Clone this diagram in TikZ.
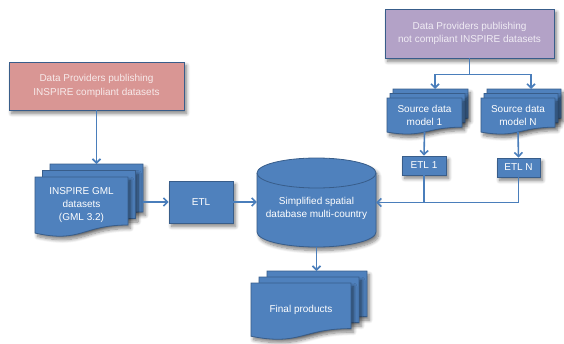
\documentclass[tikz,border=0pt]{standalone}
\usepackage{fontspec}
\setmainfont{Liberation Sans}
\usetikzlibrary{arrows.meta,shadows.blur,calc}

\definecolor{boxblue}{HTML}{4F81BD}
\definecolor{edgeblue}{HTML}{385D8A}
\definecolor{lineblue}{HTML}{4A7EBB}
\definecolor{pinkfill}{HTML}{D99694}
\definecolor{purplefill}{HTML}{B3A2C7}

% one page of a document shape: top-left corner (x,y), width w, height h
\newcommand{\docpage}[4]{%
  \path[pagestyle] ({#1},{#2}) -- ({#1+#3},{#2}) -- ({#1+#3},{#2+0.8*#4})
    .. controls ({#1+0.5*#3},{#2+0.8*#4}) and ({#1+0.5*#3},{#2+1.107*#4}) .. ({#1},{#2+0.934*#4}) -- cycle;}

% stack of three pages: name, x, y, w, h, dx, dy, text
\newcommand{\pagestack}[8]{%
  \docpage{#2+2*#6}{#3-2*#7}{#4}{#5}
  \docpage{#2+#6}{#3-#7}{#4}{#5}
  \docpage{#2}{#3}{#4}{#5}
  \node[anchor=north, minimum width=#4pt, minimum height=0.93*#5pt, inner sep=0pt]
    (#1-back) at ({#2+2*#6+0.5*#4},{#3-2*#7}) {};
  \node[pagetext, minimum width=#4pt, minimum height=0.93*#5pt]
    (#1) at ({#2+0.5*#4},{#3+0.465*#5}) {#8};}

\tikzset{
  soft/.style={blur shadow={shadow xshift=2.5pt, shadow yshift=-3.5pt,
      shadow blur radius=3.5pt, shadow blur steps=8, shadow opacity=50}},
  provider/.style={draw=edgeblue, line width=0.8pt, align=center, soft,
      font=\fontsize{10}{13.4}\selectfont},
  pagestyle/.style={fill=boxblue, draw=edgeblue, line width=0.8pt, soft},
  pagetext/.style={inner sep=0pt, align=center, text=white,
      font=\fontsize{10}{13}\selectfont},
  stepbox/.style={fill=boxblue, draw=edgeblue, line width=0.8pt, soft,
      inner sep=0pt, text=white, font=\fontsize{10}{12}\selectfont},
  conn/.style={draw=lineblue, line width=1.6pt},
  arr/.style={conn, -{Straight Barb[length=4pt, width=8pt]}},
}

\begin{document}
\begin{tikzpicture}[x=1pt, y=-1pt]
\useasboundingbox (0,0) rectangle (564,343);

% data providers
\node[provider, fill=pinkfill, text=white!80!pinkfill,
      minimum width=175pt, minimum height=48pt] (pink) at (96.5,86)
  {Data Providers publishing\\INSPIRE compliant datasets};
\node[provider, fill=purplefill, text=white!80!purplefill,
      minimum width=169pt, minimum height=49pt] (purple) at (469.5,33.5)
  {Data Providers publishing\\not compliant INSPIRE datasets};

% document stacks
\pagestack{gml}{35}{177}{93}{60}{7.5}{6.5}{INSPIRE GML\\datasets\\(GML 3.2)}
\pagestack{src1}{387}{98}{75}{36.5}{3}{4.5}{Source data\\model 1}
\pagestack{srcN}{481}{98}{74}{36.5}{3}{4.5}{Source data\\model N}
\pagestack{final}{251}{283}{100}{57}{8}{6}{Final products}

% ETL steps
\node[stepbox, minimum width=64pt, minimum height=42pt] (etl) at (201,202) {ETL};
\node[stepbox, minimum width=44pt, minimum height=19pt] (etl1) at (424,165.5) {ETL 1};
\node[stepbox, minimum width=43pt, minimum height=19pt] (etlN) at (518.5,167.5) {ETL N};

% database cylinder
\path[pagestyle] (257,173) -- (257,232)
  arc[start angle=180, end angle=360, x radius=59.5pt, y radius=15pt]
  -- (376,173)
  arc[start angle=0, end angle=180, x radius=59.5pt, y radius=15pt] -- cycle;
\draw[edgeblue, line width=0.8pt] (257,173)
  arc[start angle=180, end angle=360, x radius=59.5pt, y radius=15pt];
\node[minimum width=119pt, minimum height=89pt, inner sep=0pt] (db) at (316.5,202.5) {};
\node[pagetext] (dblabel) at (316.5,208.5) {Simplified spatial\\database multi-country};

% connectors
\draw[arr] (pink.south) -- (gml-back.north);
\draw[arr] (gml-back.east |- etl.west) -- (etl.west);
\draw[arr] (etl.east) -- (db.west |- etl.east);
\draw[arr] (db.south) -- (final-back.north -| db.south);

\coordinate (fork) at ($(purple.south)+(0,16)$);
\coordinate (forkL) at (435,0);
\coordinate (forkR) at (531,0);
\draw[conn] (purple.south) -- (fork);
\draw[arr, line join=miter] (fork) -| (forkL |- src1-back.north);
\draw[arr, line join=miter] (fork) -| (forkR |- srcN-back.north);

\draw[arr] (src1.south) -- (etl1.north);
\draw[arr] (srcN.south) -- (etlN.north);
\draw[conn] (etl1.south) -- (etl1.south |- db.east);
\draw[arr, line join=miter] (etlN.south) |- (db.east);
\end{tikzpicture}
\end{document}
